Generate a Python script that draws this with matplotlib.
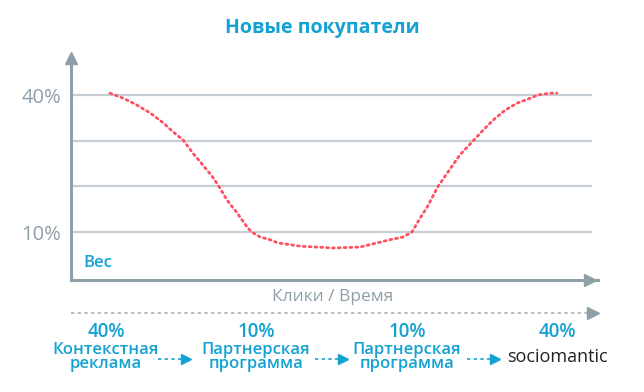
import matplotlib
matplotlib.use('agg')
import matplotlib.pyplot as plt
import numpy as np

plt.rcParams['font.family'] = ['Open Sans', 'DejaVu Sans']

# данные кривой (x: доля оси времени, %, y: вес, %)
curve_x = [7.4, 9.9, 12.5, 15.0, 17.5, 19.4, 21.3, 23.1, 25.0, 26.9, 27.9, 29.6,
           31.5, 33.4, 34.3, 35.9, 37.8, 39.3, 43.5, 49.7, 54.8, 60.5, 63.0, 64.7,
           65.8, 67.6, 69.6, 71.5, 73.8, 76.1, 78.2, 80.1, 82.4, 84.6, 86.7, 88.6,
           90.9, 92.2]
curve_y = [40.4, 39.3, 37.8, 36.1, 33.9, 31.9, 30.1, 27.3, 24.7, 22.0, 20.3, 17.0,
           14.2, 11.1, 10.0, 8.9, 8.3, 7.6, 6.9, 6.5, 6.7, 8.3, 8.9, 10.0,
           12.2, 15.5, 19.9, 23.1, 26.9, 29.7, 32.3, 34.5, 36.7, 38.2, 39.1, 40.0,
           40.4, 40.4]
grid_levels = [10, 20, 30, 40]
tick_levels = [10, 40]
tick_labels = ['10%', '40%']

stage_weights = ['40%', '10%', '10%', '40%']
stage_names = ['Контекстная\nреклама', 'Партнерская\nпрограмма',
               'Партнерская\nпрограмма', 'sociomantic']
stage_x = [106, 256, 407, 557]

cyan = '#14a2d3'
grey = '#8e9fa7'
grid_c = '#c6ced3'
red = '#ff5062'

W, H = 644, 392
fig = plt.figure(figsize=(W / 100, H / 100), dpi=100)

# основная ось
x0, x1, ytop, ybot = 71, 598, 55, 280
ax = fig.add_axes([x0 / W, 1 - ybot / H, (x1 - x0) / W, (ybot - ytop) / H])
ax.set_xlim(0, 100)
ax.set_ylim(-0.51, 48.76)
for s in ['top', 'right']:
    ax.spines[s].set_visible(False)
for s in ['left', 'bottom']:
    ax.spines[s].set_color(grey)
    ax.spines[s].set_linewidth(2.2)
ax.hlines(grid_levels, 0, 98.9, color=grid_c, lw=1.6, zorder=1)
ax.plot(curve_x, curve_y, color=red, lw=2, linestyle=(0, (0.7, 1.4)),
        dash_capstyle='round', zorder=3)
ax.set_xticks([])
ax.set_yticks(tick_levels)
ax.set_yticklabels(tick_labels)
ax.tick_params(axis='y', length=0, pad=7, labelsize=14.5, labelcolor=grey)
# стрелки осей
ax.plot(0, 0.985, marker='^', ms=9, color=grey, transform=ax.transAxes, clip_on=False)
ax.plot(0.985, 0, marker='>', ms=9, color=grey, transform=ax.transAxes, clip_on=False)

# надписи
fig.text(0.5, 1 - 28 / H, 'Новые покупатели', ha='center', va='center',
         fontsize=14, fontweight='bold', color=cyan)
fig.text(83 / W, 1 - 263 / H, 'Вес', ha='left', va='center',
         fontsize=12, fontweight='semibold', color=cyan)
fig.text(333 / W, 1 - 297 / H, 'Клики / Время', ha='center', va='center',
         fontsize=12.5, color=grey)

# пунктирная ось этапов
ov = fig.add_axes([0, 0, 1, 1])
ov.set_xlim(0, W)
ov.set_ylim(H, 0)
ov.axis('off')
ov.plot([x0, 590], [313, 313], color='#a5b3b9', lw=1.2, linestyle=(0, (2, 2)))
ov.plot(593, 313, marker='>', ms=8, color=grey)

for i, (xs, w, name) in enumerate(zip(stage_x, stage_weights, stage_names)):
    ov.text(xs, 332, w, ha='center', va='center', fontsize=13.5,
            fontweight='semibold', color=cyan)
    if name == 'sociomantic':
        ov.text(xs, 357, name, ha='center', va='center', fontsize=13,
                color='#222222')
    else:
        ov.text(xs, 357, name, ha='center', va='center', fontsize=12,
                fontweight='semibold', color=cyan, linespacing=0.85)

for xa in [158, 315, 467]:
    ov.plot([xa, xa + 25], [359, 359], color=cyan, lw=1.2, linestyle=(0, (2, 2)))
    ov.plot(xa + 28, 359, marker='>', ms=7, color=cyan)

fig.savefig('out.png', dpi=100, facecolor='white')
